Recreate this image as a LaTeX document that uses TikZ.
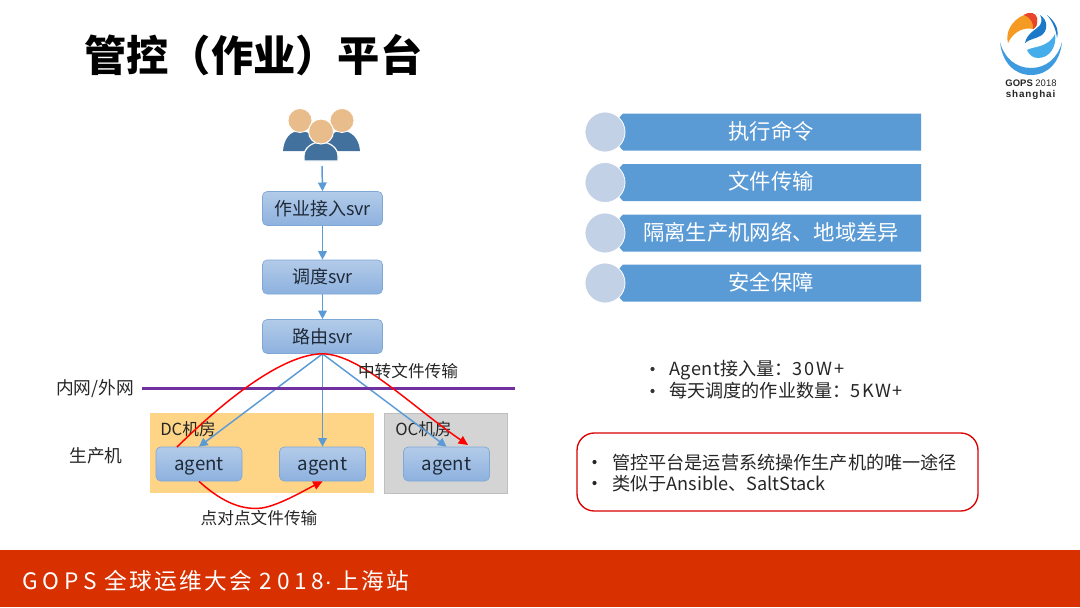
\documentclass[tikz,border=0pt]{standalone}
\usepackage{fontspec}
\setmainfont{Noto Sans CJK SC}
\newfontfamily\spaced[LetterSpace=11]{Noto Sans CJK SC}
\newfontfamily\logofont{Liberation Sans}
\usetikzlibrary{arrows.meta,calc}
\definecolor{boxtop}{HTML}{B3CBE9}
\definecolor{boxbot}{HTML}{8DB1DE}
\definecolor{boxedge}{HTML}{7FA8D6}
\definecolor{arrowblue}{HTML}{5B9BD5}
\definecolor{ink}{HTML}{1F2A38}
\definecolor{bar}{HTML}{5B9BD5}
\definecolor{dot}{HTML}{C3D1E6}
\definecolor{footer}{HTML}{D93000}
\definecolor{skin}{HTML}{E9BC8B}
\definecolor{suit}{HTML}{41719C}
\definecolor{roomorange}{HTML}{FED486}
\definecolor{roomgrey}{HTML}{D4D4D4}
\definecolor{purpleline}{HTML}{7030A0}
\definecolor{ringblue}{HTML}{3F9BE0}
\definecolor{logoorange}{HTML}{F59A23}
\definecolor{logored}{HTML}{E8452C}
\definecolor{logoblue}{HTML}{1C78C8}
\definecolor{logosky}{HTML}{45AEEA}
\newcommand{\wide}[2]{{\addfontfeature{LetterSpace=#1}#2}}
\tikzset{
  x=0.75pt,y=-0.75pt,
  svr/.style={draw=boxedge,line width=0.5pt,rounded corners=3.5pt,top color=boxtop,bottom color=boxbot,
    minimum width=120*0.75pt,minimum height=34*0.75pt,inner sep=0pt,text=ink,font=\fontsize{13.5}{15}\selectfont},
  agentbox/.style={svr,minimum width=86*0.75pt,font=\fontsize{14}{15}\selectfont},
  flow/.style={arrowblue,line width=1.1pt,-{Triangle[length=6.5pt,width=6.5pt]}},
  redflow/.style={red,line width=1.1pt,-{Triangle[length=7pt,width=6.5pt]}},
  plain/.style={inner sep=0pt,text=black!85,font=\fontsize{12.5}{15}\selectfont},
  sidelabel/.style={plain,font=\fontsize{13.3}{15}\selectfont},
  bartext/.style={inner sep=0pt,text=white,font=\fontsize{16}{19}\selectfont},
  dotc/.style={circle,fill=dot,draw=white,line width=0.6pt,minimum size=40*0.75pt,inner sep=0pt},
  barbox/.style={fill=bar},
  listtext/.style={inner sep=0pt,anchor=west,text=black!85,font=\fontsize{13.6}{16}\selectfont},
}
\begin{document}
\begin{tikzpicture}
\useasboundingbox (0,0) rectangle (1080,607);
\fill[white] (0,0) rectangle (1080,607);
% footer
\fill[footer] (0,550) rectangle (1080,607);
\node[anchor=west,inner sep=0pt,text=white,font=\spaced\fontsize{17}{19}\selectfont] (foot) at (22,581) {\wide{21}{GOPS} 全球运维大会\kern5.5pt\wide{21}{2018}{\logofont ·}\kern3pt 上海站};
% title
\node[anchor=west,inner sep=0pt,text=black,font=\bfseries\fontsize{31.7}{38}\selectfont] (title) at (84,55) {管控（作业）平台};
% logo
\fill[ringblue] (1000,42) .. controls (1002,62) and (1014,75) .. (1031,75) .. controls (1048,75) and (1060,62) .. (1062,42) .. controls (1058,58) and (1046,68) .. (1031,68) .. controls (1016,68) and (1004,58) .. (1000,42) -- cycle;
\fill[logoorange] (1008,43) .. controls (1005,32) and (1012,20) .. (1024,15) .. controls (1030,11) and (1036,13) .. (1037,18) .. controls (1038,24) and (1036,28) .. (1033,29) .. controls (1026,27) and (1014,30) .. (1008,43) -- cycle;
\fill[logored] (1024,15) .. controls (1030,11) and (1036,13) .. (1037,18) .. controls (1038,24) and (1036,28) .. (1033,29) .. controls (1034,23) and (1030,17) .. (1024,15) -- cycle;
\fill[logoblue] (1025,43) .. controls (1027,33) and (1036,30) .. (1040,25) .. controls (1042,22) and (1042,18) .. (1040,15) .. controls (1048,20) and (1048,30) .. (1042,35) .. controls (1036,39) and (1029,39) .. (1025,43) -- cycle;
\fill[logosky] (1027,50) .. controls (1034,46) and (1048,48) .. (1055,34) .. controls (1057,46) and (1050,58) .. (1038,58) .. controls (1033,58) and (1029,55) .. (1027,50) -- cycle;
\fill[logoblue] (1047,15) .. controls (1056,22) and (1059,30) .. (1057,38) .. controls (1056,30) and (1053,22) .. (1047,15) -- cycle;
\node[inner sep=0pt,text=black!85,font=\logofont\fontsize{7.1}{8}\selectfont] (logoa) at (1031,83) {\textbf{GOPS} 2018};
\node[inner sep=0pt,text=black!85,font=\logofont\fontsize{7.4}{8}\selectfont] (logob) at (1031,95) {\addfontfeature{LetterSpace=9}\textbf{shanghai}};
% users
\fill[suit] (283,151) .. controls (284,139) and (290,131) .. (300,131) .. controls (310,131) and (318,139) .. (319,151) -- cycle;
\fill[suit] (324,151) .. controls (325,139) and (332,131) .. (342,131) .. controls (352,131) and (359,139) .. (360,151) -- cycle;
\fill[skin,draw=white,line width=0.6pt] (300,120.5) circle (12);
\fill[skin,draw=white,line width=0.6pt] (342,120.5) circle (12);
\fill[suit,draw=white,line width=0.9pt] (304,161) -- (304,156) .. controls (304,148) and (312,142) .. (321,142) .. controls (330,142) and (338,148) .. (338,156) -- (338,161) -- cycle;
\fill[skin,draw=white,line width=0.8pt] (321,131.5) circle (12.5);
\coordinate (users) at (322,166);
% rooms
\fill[roomgrey,draw=black!25,line width=0.5pt] (384.5,413) rectangle (507,493);
\fill[roomorange] (150,413) rectangle (374,493);
\node[plain,anchor=west] (dc) at (160,429) {DC机房};
\node[plain,anchor=west] (oc) at (395,429) {OC机房};
% svrs
\node[svr] (s1) at (322.5,208.5) {作业接入svr};
\node[svr] (s2) at (322.5,277) {调度svr};
\node[svr] (s3) at (322.5,336.5) {路由svr};
\node[agentbox] (a1) at (199,464) {\raisebox{-4.5pt}[0pt][0pt]{agent}};
\node[agentbox] (a2) at (322.5,464) {\raisebox{-4.5pt}[0pt][0pt]{agent}};
\node[agentbox] (a3) at (446.5,464) {\raisebox{-4.5pt}[0pt][0pt]{agent}};
\draw[flow] (users) -- (s1.north);
\draw[flow] (s1) -- (s2);
\draw[flow] (s2) -- (s3);
\draw[flow] (s3.south) -- (a1.north);
\draw[flow] (s3.south) -- (a2.north);
\draw[flow] (s3.south) -- (a3.north);
% line
\coordinate (lineL) at (142,388.5);
\coordinate (lineR) at (515,388.5);
\draw[purpleline,line width=2.3pt] (lineL) -- (lineR);
% red
\coordinate (r1) at (177,447);
\coordinate (r2) at (468,445);
\draw[redflow] (r1) .. controls (230,395) and (285,354) .. (s3.south) .. controls (360,354) and (410,405) .. (r2);
\draw[redflow] (a1.south) .. controls (225,505) and (245,510) .. (262,508) .. controls (280,505) and (305,490) .. (a2.south);
% labels
\node[plain] (l1) at (408,371) {中转文件传输};
\node[sidelabel] (l2) at (95,389) {内网/外网};
\node[sidelabel] (l3) at (96,456) {生产机};
\node[plain] (l4) at (259,518) {点对点文件传输};
% right bars
\foreach \y/\t/\n in {132/执行命令/a,182.5/文件传输/b,233/隔离生产机网络、地域差异/c,283/安全保障/d}{
  \fill[barbox] (623,\y-18.5) -- (921,\y-18.5) -- (921,\y+18.5) -- (623,\y+18.5) -- (618,\y+13) -- (618,\y-13) -- cycle;
  \node[dotc] (dot\n) at (605,\y) {};
  \node[bartext] (bar\n) at (771,\y-1) {\t};
}
% stats
\fill[black!80] (652.5,369) circle (2.1);
\fill[black!80] (652.5,391) circle (2.1);
\node[listtext] (st1) at (669,370.5) {\wide{3}{Agent}接入量：\wide{10}{30W+}};
\node[listtext] (st2) at (669,391) {每天调度的作业数量：\wide{8}{5KW+}};
% callout
\draw[red!85!black,line width=1pt,rounded corners=13pt] (577,433) rectangle (978,511);
\fill[black!85] (594.5,462) circle (2.1);
\fill[black!85] (594.5,483) circle (2.1);
\node[listtext] (c1) at (612,463) {管控平台是运营系统操作生产机的唯一途径};
\node[listtext] (c2) at (612,483.5) {类似于Ansible、SaltStack};
\end{tikzpicture}
\end{document}
